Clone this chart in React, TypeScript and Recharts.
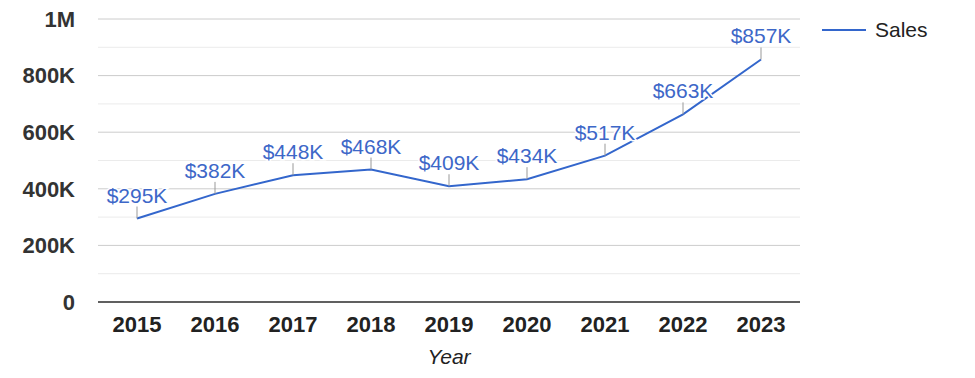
import React from 'react';
import {
  LineChart,
  Line,
  XAxis,
  YAxis,
  CartesianGrid,
  Legend,
  LabelList,
  Label
} from 'recharts';

const years = ['2015', '2016', '2017', '2018', '2019', '2020', '2021', '2022', '2023'];
const sales = [295000, 382000, 448000, 468000, 409000, 434000, 517000, 663000, 857000];
const majorTicks = [0, 200000, 400000, 600000, 800000, 1000000];
const minorTicks = [100000, 300000, 500000, 700000, 900000];

const FONT = 'Arial, "Liberation Sans", sans-serif';
const BLUE = '#3366cc';

const data = years.map((year, i) => ({ year, sales: sales[i] }));

const formatAxis = (v: number) => {
  if (v === 0) return '0';
  if (v >= 1000000) return `${v / 1000000}M`;
  return `${v / 1000}K`;
};

const SalesLabel = (props: any) => {
  const { x, y, value } = props;
  return (
    <g>
      <line x1={x} x2={x} y1={y} y2={y - 12} stroke="#999" strokeWidth={1} />
      <text
        x={x}
        y={y - 16}
        textAnchor="middle"
        fontSize={21}
        fontFamily={FONT}
        fill="#3d67c8"
        stroke="#fff"
        strokeWidth={3}
        paintOrder="stroke"
      >
        {`$${Math.round(value / 1000)}K`}
      </text>
    </g>
  );
};

const LegendBox = () => (
  <svg width={130} height={30}>
    <line x1={2} x2={46} y1={12} y2={12} stroke={BLUE} strokeWidth={2} />
    <text x={55} y={19} fontSize={21} fontFamily={FONT} fill="#222">
      Sales
    </text>
  </svg>
);

const App: React.FC = () => {
  return (
    <div style={{ position: 'absolute', left: 0, top: 0, background: '#fff' }}>
      <LineChart
        width={975}
        height={378}
        data={data}
        margin={{ top: 19, right: 175, left: 18, bottom: 0 }}
      >
        <CartesianGrid vertical={false} stroke="#ebebeb" horizontalValues={minorTicks} />
        <CartesianGrid vertical={false} stroke="#cccccc" horizontalValues={majorTicks} />
        <XAxis
          dataKey="year"
          height={76}
          padding={{ left: 39, right: 39 }}
          tickLine={false}
          tickSize={0}
          tickMargin={14}
          axisLine={{ stroke: '#333', strokeWidth: 1.5 }}
          tick={{ fontSize: 22, fontWeight: 'bold', fill: '#222', fontFamily: FONT }}
        >
          <Label
            value="Year"
            position="insideBottom"
            offset={14}
            style={{ fontSize: 21, fontStyle: 'italic', fill: '#222', fontFamily: FONT }}
          />
        </XAxis>
        <YAxis
          width={80}
          domain={[0, 1000000]}
          ticks={majorTicks}
          tickFormatter={formatAxis}
          axisLine={false}
          tickLine={false}
          tickSize={0}
          tickMargin={23}
          tick={{ fontSize: 22, fontWeight: 'bold', fill: '#333', fontFamily: FONT }}
        />
        <Legend
          layout="horizontal"
          verticalAlign="middle"
          align="center"
          wrapperStyle={{ top: 18, left: 820, width: 130 }}
          content={<LegendBox />}
        />
        <Line
          type="linear"
          dataKey="sales"
          name="Sales"
          stroke={BLUE}
          strokeWidth={2}
          dot={false}
          activeDot={false}
          isAnimationActive={false}
        >
          <LabelList dataKey="sales" content={<SalesLabel />} />
        </Line>
      </LineChart>
    </div>
  );
};

export default App;
